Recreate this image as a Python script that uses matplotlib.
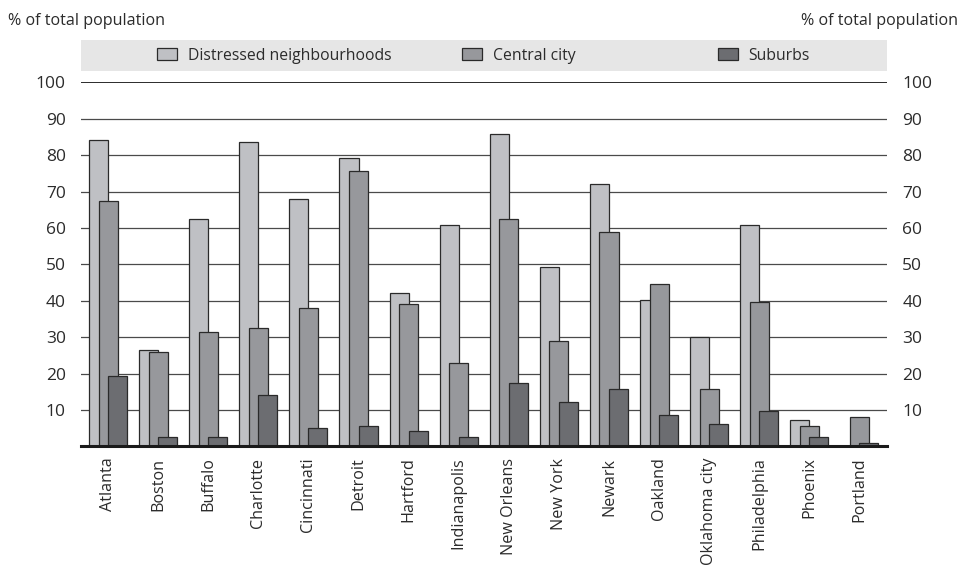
import numpy as np
import matplotlib
matplotlib.use("Agg")
import matplotlib.pyplot as plt
from matplotlib.patches import Rectangle

plt.rcParams["font.family"] = ["Open Sans", "DejaVu Sans"]

cities = ["Atlanta", "Boston", "Buffalo", "Charlotte", "Cincinnati", "Detroit",
          "Hartford", "Indianapolis", "New Orleans", "New York", "Newark",
          "Oakland", "Oklahoma city", "Philadelphia", "Phoenix", "Portland"]
distressed = [84.2, 26.6, 62.6, 83.5, 68.0, 79.3, 42.1, 60.7, 85.9, 49.4, 72.2,
              40.3, 30.1, 60.7, 7.3, 0.0]
central = [67.4, 26.0, 31.4, 32.6, 37.9, 75.7, 39.2, 22.9, 62.6, 29.0, 59.0,
           44.5, 15.8, 39.8, 5.6, 8.0]
suburbs = [19.3, 2.6, 2.6, 14.0, 5.0, 5.6, 4.3, 2.6, 17.5, 12.1, 15.8,
           8.6, 6.2, 9.7, 2.6, 0.9]
series_names = ["Distressed neighbourhoods", "Central city", "Suburbs"]
yticks = [10, 20, 30, 40, 50, 60, 70, 80, 90, 100]

W, H = 961, 565
fig = plt.figure(figsize=(W / 100, H / 100), dpi=100)
ax = fig.add_axes([81 / W, (H - 446.4) / H, (887 - 81) / W, (446.4 - 82.4) / H])

text_col = "#2b2b2b"
edge = "#2a2a2a"
colors = ["#bfc0c4", "#97989c", "#6c6d71"]
width = 0.38
offset = 0.19
x = np.arange(len(cities))
fs = 11.6

handles = []
for k, (vals, col) in enumerate(zip([distressed, central, suburbs], colors)):
    b = ax.bar(x + (k - 1) * offset, vals, width=width, color=col,
               edgecolor=edge, linewidth=0.9, zorder=3 + k)
    handles.append(b)

# horizontal rules
for v in yticks[:-1]:
    ax.axhline(v, color="#4a4a4a", lw=0.9, zorder=1)
ax.axhline(100, color="#1a1a1a", lw=1.3, zorder=1)

ax.set_xlim(-0.54, 15.55)
ax.set_ylim(0, 100)
for s in ["top", "left", "right"]:
    ax.spines[s].set_visible(False)
ax.spines["bottom"].set_linewidth(2.2)
ax.spines["bottom"].set_color("#1a1a1a")
ax.spines["bottom"].set_zorder(10)

ax.set_yticks(yticks)
ax.set_yticklabels([str(v) for v in yticks])
ax.tick_params(axis="y", length=0, pad=11, labelsize=12.5, labelcolor=text_col,
               left=True, right=True, labelleft=True, labelright=True)
ax.set_xticks(x)
ax.set_xticklabels(cities, rotation=90, fontsize=fs, color=text_col)
ax.tick_params(axis="x", length=0, pad=8)

# axis captions on both sides
fig.text(8 / W, 1 - 21 / H, "% of total population", fontsize=fs,
         color=text_col, ha="left", va="center")
fig.text(958 / W, 1 - 21 / H, "% of total population", fontsize=fs,
         color=text_col, ha="right", va="center")

# legend band
fig.patches.append(Rectangle((81 / W, 1 - 71 / H), (887 - 81) / W, 31 / H,
                             transform=fig.transFigure, facecolor="#e6e6e6",
                             edgecolor="none", zorder=0))
for h, name, px in zip(handles, series_names, [157, 462, 718]):
    fig.legend([h], [name], loc="center left",
               bbox_to_anchor=(px / W, 1 - 55.5 / H), frameon=False,
               fontsize=11.3, handlelength=1.25, handleheight=0.85,
               handletextpad=0.7, borderpad=0, borderaxespad=0,
               labelcolor=text_col)

fig.savefig("out.png", dpi=100)
